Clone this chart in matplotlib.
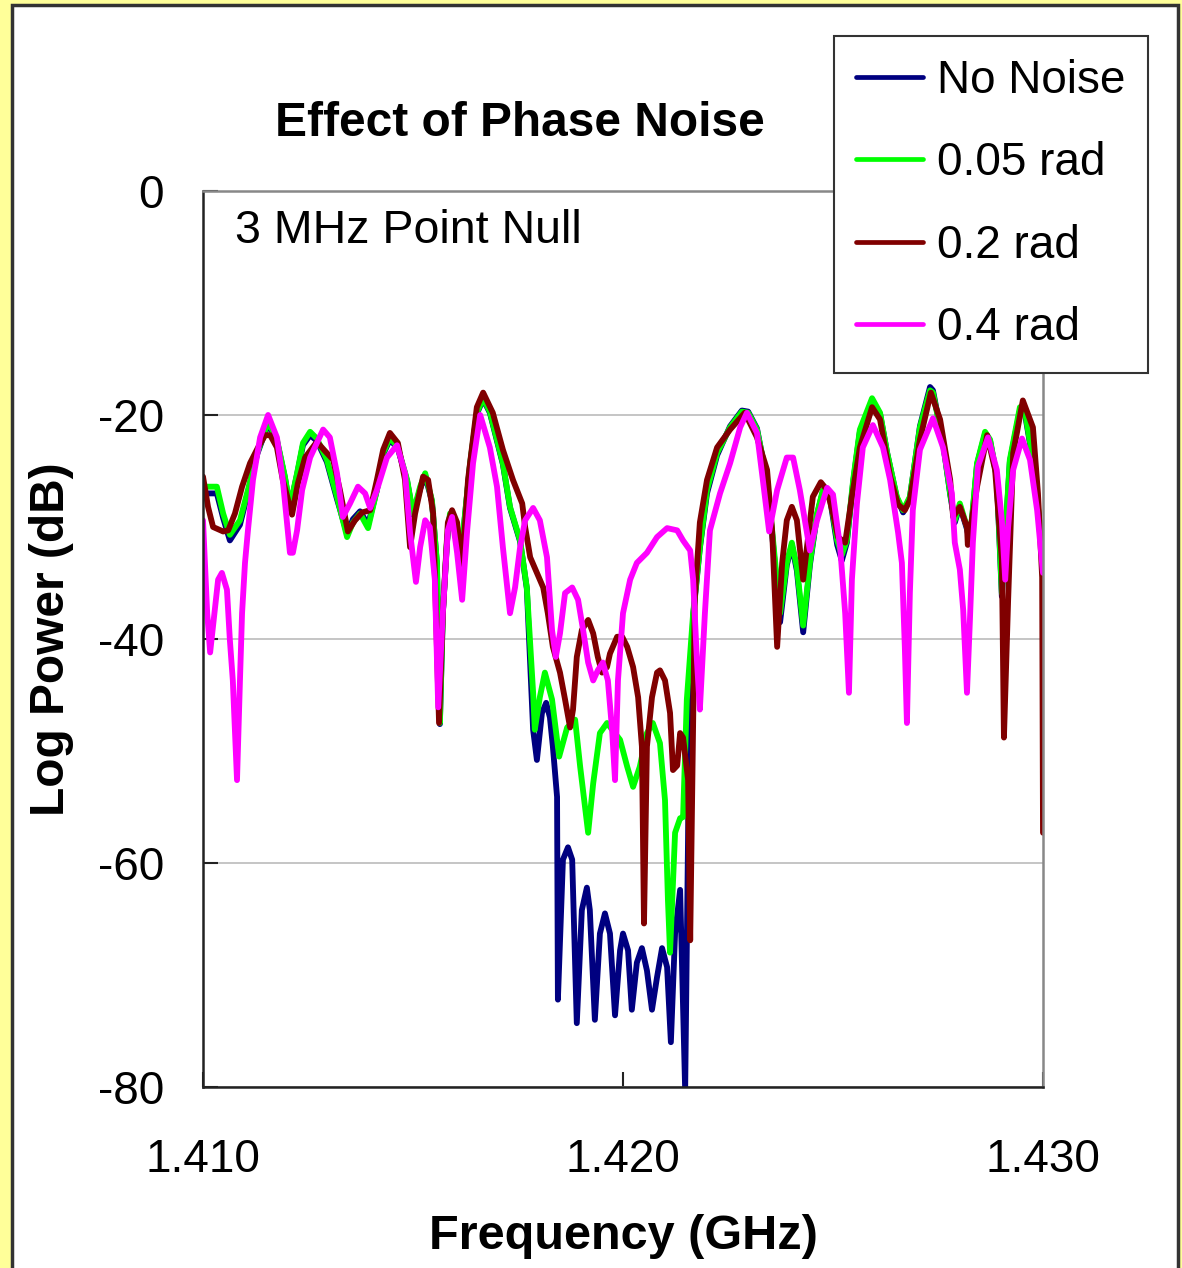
"""
Effect of phase noise on a 3 MHz point null: spectra for several noise levels.
"""

import numpy as np
import matplotlib.pyplot as plt
from matplotlib.patches import Rectangle

plt.rcParams["font.family"] = ["Liberation Sans", "DejaVu Sans"]

# frequency in MHz, power in dB
FREQ_NONE = [
    1410.00, 1410.33, 1410.48, 1410.64, 1410.88, 1411.07, 1411.29, 1411.55, 1411.76, 1411.95,
    1412.07, 1412.24, 1412.38, 1412.55, 1412.71, 1412.95, 1413.19, 1413.43, 1413.57, 1413.74,
    1413.93, 1414.14, 1414.29, 1414.45, 1414.64, 1414.86, 1415.00, 1415.17, 1415.29, 1415.45,
    1415.57, 1415.64, 1415.71, 1415.81, 1415.88, 1416.00, 1416.12, 1416.24, 1416.36, 1416.52,
    1416.67, 1416.83, 1417.14, 1417.31, 1417.55, 1417.71, 1417.86, 1417.95, 1418.07, 1418.17,
    1418.26, 1418.33, 1418.43, 1418.45, 1418.57, 1418.69, 1418.79, 1418.90, 1419.02, 1419.14,
    1419.21, 1419.33, 1419.45, 1419.57, 1419.69, 1419.81, 1419.93, 1420.00, 1420.12, 1420.21,
    1420.33, 1420.45, 1420.57, 1420.69, 1420.81, 1420.93, 1421.05, 1421.14, 1421.24, 1421.36,
    1421.48, 1421.57, 1421.67, 1421.83, 1422.00, 1422.24, 1422.55, 1422.83, 1422.98, 1423.19,
    1423.43, 1423.55, 1423.74, 1423.90, 1424.02, 1424.14, 1424.29, 1424.45, 1424.62, 1424.76,
    1424.93, 1425.10, 1425.21, 1425.33, 1425.48, 1425.64, 1425.93, 1426.12, 1426.29, 1426.52,
    1426.67, 1426.83, 1427.07, 1427.31, 1427.38, 1427.62, 1427.79, 1427.90, 1428.02, 1428.19,
    1428.26, 1428.43, 1428.62, 1428.74, 1428.90, 1429.02, 1429.21, 1429.45, 1429.57, 1429.76,
    1429.93, 1430.00,
]
POWER_NONE = [
    -27.0, -27.0, -29.2, -31.2, -29.8, -26.9, -23.5, -20.8, -22.3, -25.6,
    -28.3, -25.3, -22.7, -21.8, -22.3, -24.2, -27.5, -30.6, -29.3, -28.6,
    -29.8, -26.7, -23.5, -22.2, -23.0, -25.9, -28.9, -26.6, -25.4, -27.7,
    -33.3, -47.6, -37.8, -31.3, -29.0, -30.4, -33.6, -28.9, -24.4, -19.9,
    -18.6, -19.8, -24.4, -28.3, -31.3, -35.5, -48.1, -50.8, -46.6, -45.7,
    -47.0, -49.6, -54.1, -72.2, -59.7, -58.6, -59.7, -74.3, -64.2, -62.2,
    -64.2, -74.0, -66.3, -64.5, -66.3, -73.6, -67.8, -66.3, -67.8, -73.1,
    -68.9, -67.6, -69.6, -73.1, -70.2, -67.6, -69.3, -76.0, -66.3, -62.4,
    -80.3, -50.8, -37.9, -31.9, -27.0, -23.6, -21.0, -19.6, -19.7, -21.2,
    -25.9, -30.6, -38.5, -33.4, -31.6, -33.9, -39.4, -33.4, -28.9, -26.8,
    -27.5, -31.6, -33.0, -31.4, -26.0, -21.5, -18.8, -19.9, -23.4, -27.4,
    -28.7, -27.4, -21.0, -17.5, -17.8, -22.5, -27.1, -29.6, -28.1, -30.2,
    -31.4, -24.4, -21.7, -22.3, -25.6, -36.2, -24.2, -19.6, -19.9, -24.1,
    -30.1, -33.0,
]

FREQ_005 = [
    1410.00, 1410.33, 1410.48, 1410.64, 1410.88, 1411.07, 1411.29, 1411.55, 1411.76, 1411.95,
    1412.07, 1412.24, 1412.38, 1412.55, 1412.71, 1412.95, 1413.19, 1413.43, 1413.57, 1413.74,
    1413.93, 1414.14, 1414.29, 1414.45, 1414.64, 1414.86, 1415.00, 1415.17, 1415.29, 1415.45,
    1415.57, 1415.64, 1415.71, 1415.81, 1415.88, 1416.00, 1416.12, 1416.24, 1416.36, 1416.52,
    1416.67, 1416.83, 1417.14, 1417.31, 1417.55, 1417.71, 1417.86, 1417.90, 1418.02, 1418.14,
    1418.31, 1418.48, 1418.67, 1418.86, 1418.98, 1419.17, 1419.29, 1419.45, 1419.62, 1419.93,
    1420.10, 1420.24, 1420.40, 1420.57, 1420.71, 1420.88, 1421.00, 1421.07, 1421.12, 1421.24,
    1421.36, 1421.43, 1421.52, 1421.67, 1421.83, 1422.00, 1422.24, 1422.55, 1422.83, 1422.98,
    1423.19, 1423.43, 1423.55, 1423.74, 1423.90, 1424.02, 1424.14, 1424.29, 1424.45, 1424.62,
    1424.76, 1424.93, 1425.10, 1425.21, 1425.33, 1425.48, 1425.64, 1425.93, 1426.12, 1426.29,
    1426.52, 1426.67, 1426.83, 1427.07, 1427.31, 1427.38, 1427.62, 1427.79, 1427.90, 1428.02,
    1428.19, 1428.26, 1428.43, 1428.62, 1428.74, 1428.90, 1429.02, 1429.21, 1429.45, 1429.57,
    1429.76, 1429.93, 1430.00,
]
POWER_005 = [
    -26.4, -26.4, -28.8, -30.7, -29.4, -26.7, -23.4, -20.6, -22.2, -25.5,
    -28.2, -25.2, -22.5, -21.5, -22.1, -24.0, -27.3, -30.9, -29.6, -28.8,
    -30.1, -26.7, -23.4, -22.0, -22.9, -25.8, -28.8, -26.4, -25.2, -27.6,
    -33.2, -47.5, -37.7, -31.2, -28.8, -30.3, -33.6, -28.8, -24.3, -19.8,
    -18.5, -19.7, -24.3, -28.2, -31.2, -35.4, -44.8, -48.1, -45.2, -43.0,
    -45.4, -50.5, -47.9, -47.2, -51.4, -57.3, -52.9, -48.4, -47.5, -49.0,
    -51.4, -53.2, -51.4, -48.4, -47.5, -49.3, -54.4, -63.3, -68.0, -57.3,
    -56.0, -55.9, -45.4, -37.7, -31.8, -26.7, -23.4, -21.1, -19.7, -19.8,
    -21.3, -25.8, -30.3, -37.7, -33.2, -31.4, -33.6, -38.8, -33.2, -28.8,
    -26.7, -27.3, -31.2, -32.5, -31.2, -25.8, -21.3, -18.5, -19.8, -23.4,
    -27.3, -28.5, -27.3, -21.1, -17.8, -18.0, -22.5, -27.0, -29.4, -27.9,
    -30.0, -31.2, -24.3, -21.5, -22.2, -25.5, -35.9, -24.0, -19.3, -19.7,
    -24.0, -30.0, -32.9,
]

FREQ_02 = [
    1410.00, 1410.12, 1410.24, 1410.48, 1410.60, 1410.76, 1410.93, 1411.12, 1411.31, 1411.48,
    1411.60, 1411.76, 1411.90, 1412.12, 1412.26, 1412.43, 1412.71, 1412.95, 1413.10, 1413.26,
    1413.45, 1413.62, 1413.79, 1413.98, 1414.14, 1414.29, 1414.45, 1414.64, 1414.81, 1414.93,
    1415.05, 1415.24, 1415.36, 1415.48, 1415.62, 1415.71, 1415.83, 1415.93, 1416.05, 1416.17,
    1416.31, 1416.52, 1416.67, 1416.90, 1417.14, 1417.38, 1417.60, 1417.67, 1417.79, 1417.95,
    1418.10, 1418.21, 1418.33, 1418.50, 1418.62, 1418.74, 1418.81, 1418.90, 1419.02, 1419.17,
    1419.29, 1419.40, 1419.50, 1419.62, 1419.69, 1419.86, 1419.98, 1420.10, 1420.24, 1420.36,
    1420.45, 1420.50, 1420.57, 1420.69, 1420.81, 1420.88, 1421.00, 1421.12, 1421.19, 1421.29,
    1421.36, 1421.43, 1421.55, 1421.60, 1421.71, 1421.83, 1422.00, 1422.24, 1422.55, 1422.90,
    1423.19, 1423.43, 1423.55, 1423.67, 1423.79, 1423.90, 1424.02, 1424.14, 1424.29, 1424.40,
    1424.52, 1424.71, 1424.86, 1425.00, 1425.12, 1425.29, 1425.45, 1425.64, 1425.93, 1426.12,
    1426.36, 1426.55, 1426.71, 1426.83, 1427.07, 1427.33, 1427.55, 1427.79, 1427.86, 1428.02,
    1428.19, 1428.21, 1428.43, 1428.67, 1428.86, 1429.02, 1429.07, 1429.17, 1429.29, 1429.52,
    1429.76, 1429.88, 1429.98, 1430.00,
]
POWER_02 = [
    -25.5, -28.2, -30.0, -30.4, -30.3, -28.8, -26.4, -24.3, -22.9, -21.8,
    -21.8, -22.9, -25.8, -28.9, -26.1, -23.8, -22.4, -23.4, -24.0, -26.7,
    -30.4, -29.4, -28.7, -28.5, -25.8, -23.1, -21.6, -22.5, -25.8, -31.8,
    -28.8, -25.5, -25.8, -28.8, -47.5, -37.7, -29.6, -28.5, -29.6, -33.6,
    -25.8, -19.3, -18.0, -19.8, -23.1, -25.8, -27.9, -30.0, -32.7, -34.1,
    -35.4, -37.7, -40.7, -43.0, -45.4, -47.9, -46.3, -41.6, -39.2, -38.3,
    -39.5, -41.6, -43.0, -42.5, -41.3, -39.8, -39.8, -40.7, -42.5, -45.2,
    -49.6, -65.4, -49.6, -45.2, -43.0, -42.8, -43.7, -46.6, -51.7, -51.3,
    -48.4, -48.8, -52.6, -66.9, -36.3, -29.6, -25.8, -22.9, -21.3, -19.8,
    -22.0, -24.9, -30.3, -40.7, -33.2, -29.4, -28.2, -29.4, -34.7, -31.2,
    -27.3, -26.0, -26.7, -28.8, -30.9, -31.4, -27.3, -22.9, -19.3, -20.4,
    -25.5, -28.0, -28.5, -27.6, -22.2, -18.0, -20.4, -25.8, -29.1, -28.2,
    -30.0, -31.6, -26.4, -21.8, -24.9, -32.9, -48.8, -36.5, -23.4, -18.7,
    -21.1, -27.0, -34.5, -57.3,
]

FREQ_04 = [
    1410.00, 1410.10, 1410.17, 1410.29, 1410.36, 1410.45, 1410.57, 1410.64, 1410.71, 1410.81,
    1410.88, 1410.93, 1411.00, 1411.07, 1411.19, 1411.36, 1411.55, 1411.76, 1411.90, 1412.07,
    1412.14, 1412.24, 1412.36, 1412.55, 1412.86, 1413.02, 1413.19, 1413.33, 1413.50, 1413.69,
    1413.86, 1413.98, 1414.14, 1414.38, 1414.62, 1414.81, 1414.93, 1415.07, 1415.17, 1415.29,
    1415.40, 1415.52, 1415.60, 1415.71, 1415.83, 1415.93, 1416.05, 1416.17, 1416.29, 1416.43,
    1416.60, 1416.83, 1417.00, 1417.14, 1417.31, 1417.43, 1417.55, 1417.67, 1417.86, 1418.02,
    1418.19, 1418.31, 1418.40, 1418.50, 1418.62, 1418.79, 1418.93, 1419.05, 1419.17, 1419.29,
    1419.40, 1419.52, 1419.64, 1419.74, 1419.81, 1419.88, 1420.00, 1420.17, 1420.33, 1420.57,
    1420.81, 1421.05, 1421.29, 1421.43, 1421.60, 1421.67, 1421.76, 1421.83, 1421.95, 1422.07,
    1422.31, 1422.55, 1422.79, 1422.95, 1423.19, 1423.33, 1423.48, 1423.67, 1423.90, 1424.05,
    1424.21, 1424.45, 1424.62, 1424.86, 1425.00, 1425.17, 1425.29, 1425.38, 1425.45, 1425.57,
    1425.71, 1425.95, 1426.19, 1426.36, 1426.55, 1426.64, 1426.71, 1426.76, 1426.83, 1426.90,
    1427.07, 1427.38, 1427.62, 1427.83, 1427.90, 1428.02, 1428.10, 1428.19, 1428.26, 1428.33,
    1428.45, 1428.69, 1428.90, 1429.02, 1429.10, 1429.17, 1429.29, 1429.50, 1429.69, 1429.86,
    1430.00,
]
POWER_04 = [
    -29.4, -37.7, -41.2, -37.1, -34.7, -34.1, -35.6, -40.1, -43.7, -52.6,
    -43.7, -37.7, -33.2, -30.3, -25.8, -22.0, -20.0, -22.0, -25.8, -32.3,
    -32.3, -30.3, -26.7, -23.8, -21.3, -22.0, -25.2, -29.1, -27.9, -26.4,
    -27.0, -28.3, -26.7, -23.8, -22.7, -25.2, -30.5, -34.9, -31.8, -29.4,
    -30.0, -34.7, -46.1, -37.7, -30.3, -29.1, -32.3, -36.5, -30.3, -24.3,
    -20.0, -22.9, -26.4, -31.8, -37.7, -35.4, -31.8, -29.4, -28.3, -29.4,
    -32.7, -39.2, -41.6, -39.5, -35.9, -35.4, -36.5, -39.2, -42.1, -43.7,
    -42.8, -42.1, -43.7, -48.1, -52.6, -43.7, -37.7, -34.7, -33.2, -32.3,
    -30.9, -30.1, -30.3, -31.2, -32.1, -34.7, -41.9, -46.3, -37.7, -30.3,
    -27.0, -24.3, -21.1, -19.8, -21.6, -25.8, -30.4, -26.7, -23.8, -23.8,
    -26.7, -32.1, -29.4, -26.5, -27.1, -31.8, -37.7, -44.8, -34.7, -27.9,
    -22.9, -20.9, -22.9, -25.8, -30.5, -33.2, -40.7, -47.5, -35.9, -28.5,
    -23.1, -20.3, -22.9, -27.0, -31.4, -33.8, -37.4, -44.8, -38.3, -31.4,
    -24.6, -22.0, -24.9, -29.4, -34.7, -30.0, -24.9, -22.1, -24.0, -28.5,
    -34.1,
]

SERIES = [
    ("No Noise", FREQ_NONE, POWER_NONE, "#000080"),
    ("0.05 rad", FREQ_005, POWER_005, "#00ff00"),
    ("0.2 rad", FREQ_02, POWER_02, "#800000"),
    ("0.4 rad", FREQ_04, POWER_04, "#ff00ff"),
]

X_TICKS = [1.410, 1.420, 1.430]
Y_TICKS = [0, -20, -40, -60, -80]


def main():
    fig = plt.figure(figsize=(11.82, 12.68), dpi=100, facecolor="#ffff99")

    # white panel with a dark frame, kept behind the axes
    panel = Rectangle((12 / 1182, -0.02), 1166 / 1182, 1.02 - 5 / 1268,
                      transform=fig.transFigure, facecolor="white",
                      edgecolor="#333333", linewidth=2.5, zorder=-10)
    fig.patches.append(panel)

    ax = fig.add_axes([203 / 1182, 1 - 1087 / 1268, 840 / 1182, 896 / 1268])
    ax.set_facecolor("white")

    for label, freq, power, color in SERIES:
        ax.plot(np.array(freq) / 1000.0, power, color=color, lw=4.2,
                solid_joinstyle="round", solid_capstyle="round", label=label)

    ax.set_xlim(1.410, 1.430)
    ax.set_ylim(-80, 0)
    ax.set_xticks(X_TICKS)
    ax.set_xticklabels([f"{t:.3f}" for t in X_TICKS])
    ax.set_yticks(Y_TICKS)
    ax.set_yticklabels([str(t) for t in Y_TICKS])
    ax.tick_params(axis="both", direction="in", length=11, width=1.5,
                   labelsize=33, colors="#222222", labelcolor="black")
    ax.tick_params(axis="x", pad=37)
    ax.tick_params(axis="y", pad=28)

    ax.yaxis.grid(True, color="#c0c0c0", lw=1.3)
    ax.set_axisbelow(True)
    for side in ["left", "bottom"]:
        ax.spines[side].set_color("#222222")
        ax.spines[side].set_linewidth(1.8)
    for side in ["top", "right"]:
        ax.spines[side].set_color("#888888")
        ax.spines[side].set_linewidth(1.8)

    ax.text(0.038, 0.955, "3 MHz Point Null", transform=ax.transAxes,
            fontsize=33.5, va="center", ha="left")

    ax.set_xlabel("Frequency (GHz)", fontsize=35, fontweight="bold")
    ax.xaxis.set_label_coords(0.5, -0.167)
    ax.xaxis.label.set_va("center")
    ax.set_ylabel("Log Power (dB)", fontsize=34.5, fontweight="bold")
    ax.yaxis.set_label_coords(-0.18, 0.5)
    ax.yaxis.label.set_va("center")

    fig.text(520 / 1182, 1 - 124 / 1268, "Effect of Phase Noise", fontsize=34.5,
             fontweight="bold", ha="center", va="center")

    leg = ax.legend(loc="upper right", bbox_to_anchor=(1148 / 1182, 1 - 36 / 1268),
                    bbox_transform=fig.transFigure, fontsize=33, frameon=True,
                    fancybox=False, framealpha=1, edgecolor="#333333",
                    handlelength=1.45, handletextpad=0.3, labelspacing=0.84,
                    borderpad=0.5, borderaxespad=0)
    leg.get_frame().set_linewidth(1.5)
    for line in leg.get_lines():
        line.set_linewidth(3.4)

    fig.savefig("out.png", dpi=100, facecolor=fig.get_facecolor())


if __name__ == "__main__":
    main()
